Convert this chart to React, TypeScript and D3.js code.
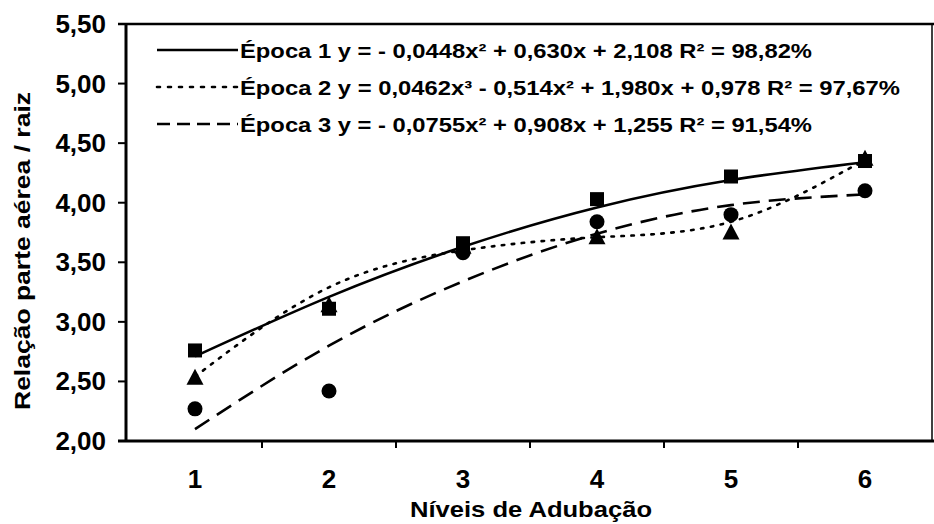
import React from 'react';
import * as d3 from 'd3';

// Níveis de adubação (eixo x)
const levels = [1, 2, 3, 4, 5, 6];

const epoca1Obs = [2.76, 3.11, 3.66, 4.03, 4.22, 4.35];
const epoca2Obs = [2.53, 3.14, 3.63, 3.71, 3.75, 4.37];
const epoca3Obs = [2.27, 2.42, 3.58, 3.84, 3.9, 4.1];

const epoca1Fit = [2.71, 3.21, 3.63, 3.96, 4.19, 4.34];
const epoca2Fit = [2.54, 3.29, 3.6, 3.71, 3.84, 4.36];
const epoca3Fit = [2.1, 2.8, 3.34, 3.74, 3.98, 4.07];

const yTicks = [2, 2.5, 3, 3.5, 4, 4.5, 5, 5.5];

const legendLabels = [
  'Época 1  y = - 0,0448x² + 0,630x + 2,108  R² = 98,82%',
  'Época 2  y = 0,0462x³ - 0,514x² + 1,980x + 0,978  R² = 97,67%',
  'Época 3  y = - 0,0755x² + 0,908x + 1,255  R² = 91,54%',
];
const legendWidths = [572, 660, 572];

const width = 934;
const height = 524;
const plot = { left: 126, right: 932, top: 24, bottom: 441 };
const font = '"Liberation Sans", Arial, sans-serif';

const ptBR = d3.formatLocale({ decimal: ',', thousands: '.', grouping: [3], currency: ['R$', ''] });
const fmt = ptBR.format('.2f');

export default function App() {
  const x = d3.scaleLinear().domain([0.5, 6.5]).range([plot.left + 2, plot.right]);
  const y = d3.scaleLinear().domain([2, 5.5]).range([plot.bottom, plot.top]);

  const line = d3
    .line<number>()
    .x((_, i) => x(levels[i]))
    .y((d) => y(d))
    .curve(d3.curveNatural);

  const series = [
    { fit: epoca1Fit, obs: epoca1Obs, dash: undefined, marker: 'square', legDash: undefined },
    { fit: epoca2Fit, obs: epoca2Obs, dash: '2.5 7.5', marker: 'triangle', legDash: '3 8' },
    { fit: epoca3Fit, obs: epoca3Obs, dash: '17 9', marker: 'circle', legDash: '13 7' },
  ];

  const bandTicks = d3.range(1.5, 6.5, 1);

  const marker = (kind: string, cx: number, cy: number, key: string) => {
    if (kind === 'square') return <rect key={key} x={cx - 7} y={cy - 7} width={14} height={14} fill="#000" />;
    if (kind === 'triangle')
      return <path key={key} d={`M${cx},${cy - 9}L${cx + 8.5},${cy + 7}L${cx - 8.5},${cy + 7}Z`} fill="#000" />;
    return <circle key={key} cx={cx} cy={cy} r={7.5} fill="#000" />;
  };

  return (
    <svg
      width={width}
      height={height}
      style={{ position: 'absolute', left: 0, top: 0, background: '#fff' }}
      fontFamily={font}
    >
      {/* moldura da área do gráfico */}
      <line x1={plot.left - 8} x2={plot.right + 2} y1={plot.top} y2={plot.top} stroke="#000" strokeWidth={2.5} />
      <line x1={plot.right} x2={plot.right} y1={plot.top} y2={plot.bottom} stroke="#000" strokeWidth={1.5} />
      <line x1={plot.left} x2={plot.left} y1={plot.top - 1} y2={plot.bottom + 1} stroke="#000" strokeWidth={3} />
      <line x1={plot.left - 8} x2={plot.right + 2} y1={plot.bottom} y2={plot.bottom} stroke="#000" strokeWidth={3} />

      {/* eixo y */}
      {yTicks.map((t) => (
        <g key={t}>
          <line x1={plot.left - 8} x2={plot.left} y1={y(t)} y2={y(t)} stroke="#000" strokeWidth={2} />
          <text x={plot.left - 20} y={y(t) + 9} textAnchor="end" fontSize={26} fontWeight="bold">
            {fmt(t)}
          </text>
        </g>
      ))}

      {/* eixo x */}
      {bandTicks.map((t) => (
        <line key={t} x1={x(t)} x2={x(t)} y1={plot.bottom} y2={plot.bottom + 7} stroke="#000" strokeWidth={2} />
      ))}
      {levels.map((l) => (
        <text key={l} x={x(l)} y={488} textAnchor="middle" fontSize={26} fontWeight="bold">
          {l}
        </text>
      ))}

      <text x={410} y={517} fontSize={22} fontWeight="bold" textLength={242} lengthAdjust="spacingAndGlyphs">
        Níveis de Adubação
      </text>
      <text
        transform={`translate(30,410) rotate(-90)`}
        fontSize={22}
        fontWeight="bold"
        textLength={318}
        lengthAdjust="spacingAndGlyphs"
      >
        Relação parte aérea / raiz
      </text>

      {/* curvas ajustadas */}
      {series.map((s, i) => (
        <path
          key={`fit${i}`}
          d={line(s.fit) || ''}
          fill="none"
          stroke="#000"
          strokeWidth={2.6}
          strokeDasharray={s.dash}
          strokeLinecap={s.marker === 'triangle' ? 'round' : 'butt'}
        />
      ))}

      {/* pontos observados */}
      {series.map((s, i) => s.obs.map((v, j) => marker(s.marker, x(levels[j]), y(v), `m${i}-${j}`)))}

      {/* legenda */}
      {series.map((s, i) => {
        const ly = 50 + i * 37;
        return (
          <g key={`leg${i}`}>
            <line
              x1={157}
              x2={238}
              y1={ly}
              y2={ly}
              stroke="#000"
              strokeWidth={2.6}
              strokeDasharray={s.legDash}
              strokeLinecap={s.marker === 'triangle' ? 'round' : 'butt'}
            />
            <text
              x={240}
              y={ly + 8}
              fontSize={21}
              fontWeight="bold"
              textLength={legendWidths[i]}
              lengthAdjust="spacingAndGlyphs"
            >
              {legendLabels[i]}
            </text>
          </g>
        );
      })}
    </svg>
  );
}
